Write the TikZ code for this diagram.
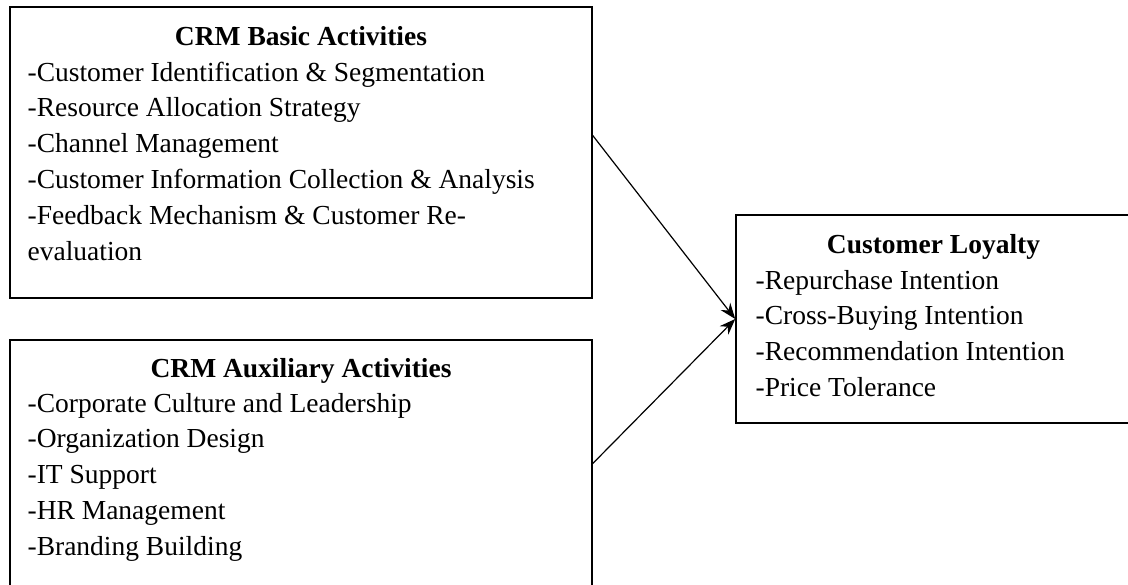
\documentclass[tikz,border=0pt]{standalone}
\usepackage{fontspec}
\setmainfont{Liberation Serif}
\usetikzlibrary{arrows.meta}

\tikzset{
  box/.style={draw, line width=0.75pt, inner sep=0pt},
  title/.style={anchor=base, inner sep=0pt, font=\fontsize{13.75pt}{17.9pt}\selectfont\bfseries},
  item/.style={anchor=base west, inner sep=0pt},
}

\begin{document}
\begin{tikzpicture}[x=0.5pt,y=-0.5pt,line width=0.6pt,
      font=\fontsize{13.75pt}{17.9pt}\selectfont,
      >={Stealth[length=8pt,width=6pt]}]
  \useasboundingbox (0,0) rectangle (1128,584);
  % boxes
  \node[box, minimum width=291pt, minimum height=145.5pt] (basic) at (301,152.5) {};
  \node[box, minimum width=291pt, minimum height=123.5pt] (aux) at (301,463.5) {};
  \node[box, minimum width=197.5pt, minimum height=104pt] (loyal) at (933.5,319) {};
  % titles
  \node[title] (basicT) at (301,45) {CRM Basic Activities};
  \node[title] (auxT) at (301,377) {CRM Auxiliary Activities};
  \node[title] (loyalT) at (933.5,253) {Customer Loyalty};
  % items
  \foreach \txt [count=\i] in {-Customer Identification \& Segmentation,
      -Resource Allocation Strategy, -Channel Management,
      -Customer Information Collection \& Analysis,
      -Feedback Mechanism \& Customer Re-, evaluation}
    \node[item] (basic-\i) at (27,{81+35.8*(\i-1)}) {\txt};
  \foreach \txt [count=\i] in {-Corporate Culture and Leadership,
      -Organization Design, -IT Support, -HR Management,
      -Branding Building}
    \node[item] (aux-\i) at (27,{412+35.8*(\i-1)}) {\txt};
  \foreach \txt [count=\i] in {-Repurchase Intention,
      -Cross-Buying Intention, -Recommendation Intention,
      -Price Tolerance}
    \node[item] (loyal-\i) at (755,{289+35.7*(\i-1)}) {\txt};
  % arrows
  \path[->]
    ([yshift=8.5pt]basic.east) edge (loyal.west)
    (aux.east) edge (loyal.west);
\end{tikzpicture}
\end{document}
